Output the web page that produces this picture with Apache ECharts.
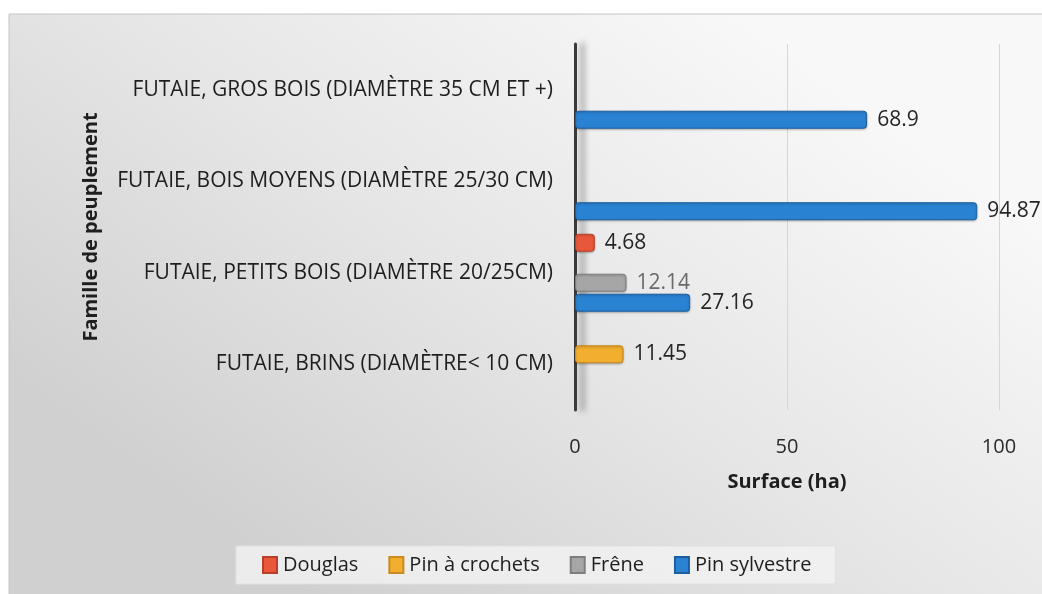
<!DOCTYPE html>
<html>
<head>
<meta charset="utf-8">
<script src="https://cdn.jsdelivr.net/npm/echarts@6/dist/echarts.min.js"></script>
<style>
html,body{margin:0;padding:0;background:#fff;}
#main{width:1042px;height:594px;}
</style>
</head>
<body>
<div id="main"></div>
<script>
// Data (bottom to top category order)
var categories = [
  'FUTAIE, BRINS (DIAMÈTRE< 10 CM)',
  'FUTAIE, PETITS BOIS (DIAMÈTRE 20/25CM)',
  'FUTAIE, BOIS MOYENS (DIAMÈTRE 25/30 CM)',
  'FUTAIE, GROS BOIS (DIAMÈTRE 35 CM ET +)'
];
var seriesNames = ['Douglas', 'Pin à crochets', 'Frêne', 'Pin sylvestre'];
var douglas = [null, 4.68, null, null];
var pinCrochets = [11.45, null, null, null];
var frene = [null, 12.14, null, null];
var pinSylvestre = [null, 27.16, 94.87, 68.9];
var xTicks = [0, 50, 100];

var colors = ['#E8573A', '#F2AE2E', '#A6A6A6', '#2A82D2'];
var borders = ['#B8402A', '#C98A1E', '#7E7E7E', '#1C5FA0'];
var values = [douglas, pinCrochets, frene, pinSylvestre];
var labelColors = ['#262626', '#262626', '#6a6a6a', '#262626'];

var FONT = '"Open Sans", "Noto Sans", sans-serif';

var chart = echarts.init(document.getElementById('main'));
var series = seriesNames.map(function (name, i) {
  return {
    name: name,
    type: 'bar',
    data: values[i],
    barWidth: 18,
    barGap: '11%',
    itemStyle: {
      color: colors[i],
      borderColor: borders[i],
      borderWidth: 1,
      borderRadius: 3,
      shadowColor: 'rgba(0,0,0,0.25)',
      shadowBlur: 2,
      shadowOffsetY: 1
    },
    label: {
      show: true,
      position: 'right',
      distance: 10,
      fontFamily: FONT,
      fontSize: 21,
      color: labelColors[i],
      formatter: function (p) { return p.value == null ? '' : String(p.value); }
    }
  };
});

chart.setOption({
  animation: false,
  backgroundColor: '#ffffff',
  graphic: [{
    type: 'rect',
    z: -10,
    shape: { x: 9, y: 14, width: 1040, height: 585 },
    style: {
      fill: new echarts.graphic.LinearGradient(0.7, 0, 0.3, 1, [
        { offset: 0, color: '#f8f8f8' },
        { offset: 0.5, color: '#e6e6e6' },
        { offset: 1, color: '#d0d0d0' }
      ]),
      stroke: '#c4c4c4',
      lineWidth: 1
    }
  }],
  grid: { left: 575, right: 43, top: 44, bottom: 184, containLabel: false },
  legend: {
    data: seriesNames,
    top: 546,
    left: 236,
    itemWidth: 14,
    itemHeight: 16,
    itemGap: 30,
    icon: 'rect',
    padding: [9, 24, 9, 26],
    backgroundColor: 'rgba(242,242,242,0.8)',
    borderColor: '#e0e0e0',
    borderWidth: 1,
    textStyle: { fontFamily: FONT, fontSize: 20, color: '#1e1e1e', padding: [0, 0, 0, 1] }
  },
  xAxis: {
    type: 'value',
    min: 0,
    max: 100,
    interval: 50,
    name: 'Surface (ha)',
    nameLocation: 'middle',
    nameGap: 62,
    nameTextStyle: { fontFamily: FONT, fontSize: 20, fontWeight: 'bold', color: '#1e1e1e' },
    axisLine: { show: false },
    axisTick: { show: false },
    axisLabel: {
      margin: 27,
      fontFamily: FONT, fontSize: 20, color: '#2a2a2a',
      formatter: function (v) { return xTicks.indexOf(v) >= 0 ? String(v) : ''; }
    },
    splitLine: { show: true, lineStyle: { color: '#d6d6d6', width: 1 } }
  },
  yAxis: {
    type: 'category',
    data: categories,
    name: 'Famille de peuplement',
    nameLocation: 'middle',
    nameGap: 474,
    nameTextStyle: { fontFamily: FONT, fontSize: 20, fontWeight: 'bold', color: '#1e1e1e' },
    axisLine: {
      show: true,
      lineStyle: {
        color: '#3a3a3a', width: 3,
        shadowColor: 'rgba(0,0,0,0.45)', shadowBlur: 6, shadowOffsetX: 7
      }
    },
    axisTick: { show: false },
    axisLabel: { margin: 22, fontFamily: FONT, fontSize: 21, color: '#1e1e1e' }
  },
  series: series
});
</script>
</body>
</html>
